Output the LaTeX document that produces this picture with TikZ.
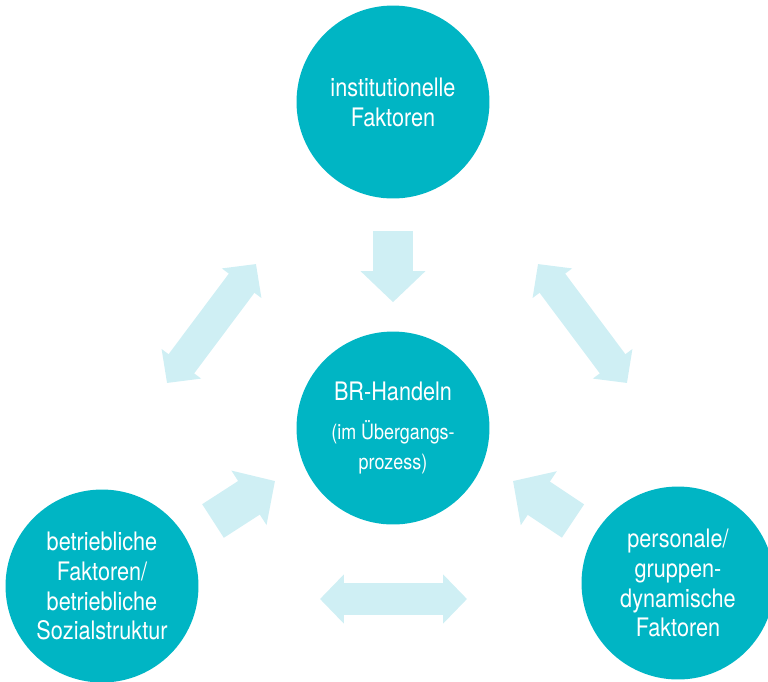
\documentclass[tikz,border=0pt]{standalone}
\usepackage{fontspec}
\setmainfont{TeX Gyre Heros}[FakeStretch=0.85]
\usepackage{tikz}
\usetikzlibrary{arrows.meta}
\definecolor{factorteal}{RGB}{0,181,196}
\definecolor{arrowcyan}{RGB}{207,239,244}

\begin{document}
\begin{tikzpicture}[x=0.02cm, y=-0.02cm,
	factor/.style={circle, fill=factorteal, minimum size=3.86cm, inner sep=0pt, text=white, align=center, font=\fontsize{14.5}{17}\selectfont},
	bigarrow/.style={arrowcyan, line width=0.8cm, -{Triangle[width=1.26cm,length=0.62cm]}},
	bothways/.style={arrowcyan, line width=0.64cm, {Triangle[width=0.96cm,length=0.48cm]}-{Triangle[width=0.96cm,length=0.48cm]}}]

	\clip (0,0) rectangle (768,681);

	% the four factors
	\node[factor] (inst) at (393,102) {institutionelle\\Faktoren};
	\node[factor] (brh) at (393,428) {BR-Handeln\\[5pt]{\fontsize{12}{15}\selectfont (im Übergangs-}\\{\fontsize{12}{15}\selectfont prozess)}};
	\node[factor] (betr) at (102,586) {betriebliche\\Faktoren/\\betriebliche\\Sozialstruktur};
	\node[factor] (pers) at (678,583) {personale/\\gruppen-\\dynamische\\Faktoren};

	% arrow ends
	\coordinate (leftlow) at (167,383);
	\coordinate (lefthigh) at (256,264);
	\coordinate (righthigh) at (538,264);
	\coordinate (rightlow) at (627,383);
	\coordinate (bottomleft) at (320,599);
	\coordinate (bottomright) at (467,599);
	\coordinate (betrtail) at (213,521);
	\coordinate (betrtip) at (275,481);
	\coordinate (perstail) at (573,521);
	\coordinate (perstip) at (513,481);

	\draw[bigarrow, shorten <=0.64cm, shorten >=0.58cm] (inst) -- (brh);
	\draw[bigarrow] (betrtail) -- (betrtip);
	\draw[bigarrow] (perstail) -- (perstip);

	\draw[bothways] (leftlow) -- (lefthigh);
	\draw[bothways] (righthigh) -- (rightlow);
	\draw[bothways] (bottomleft) -- (bottomright);

\end{tikzpicture}
\end{document}
